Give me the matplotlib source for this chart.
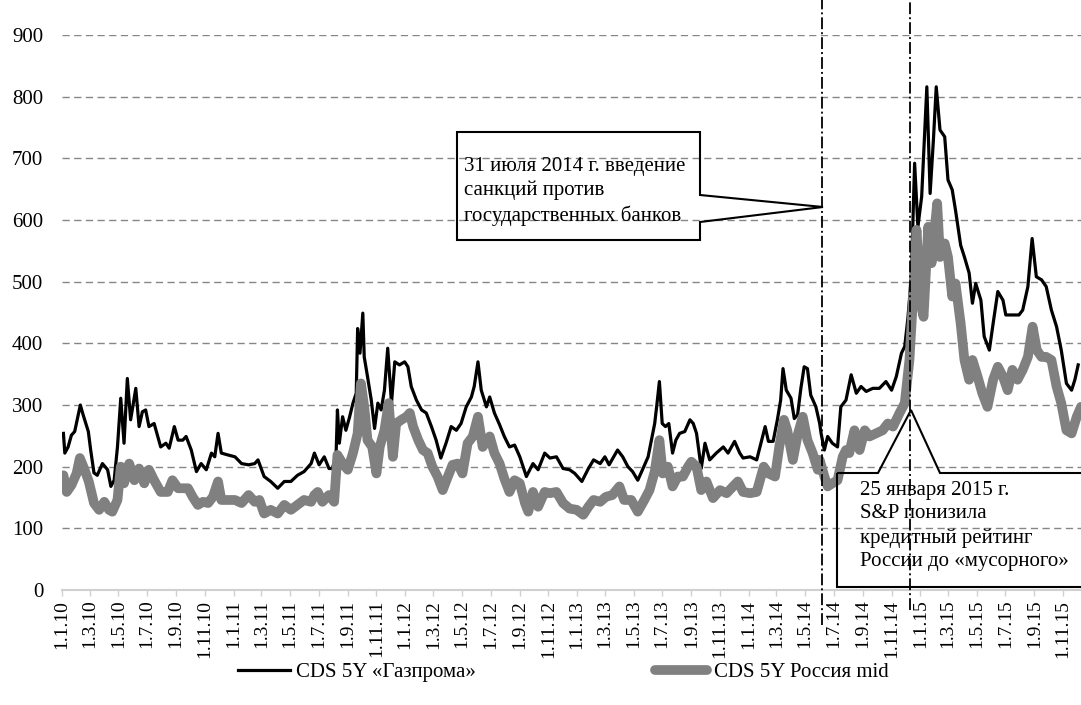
import matplotlib
matplotlib.use('Agg')
import matplotlib.pyplot as plt
from matplotlib.patches import Polygon
import numpy as np
import datetime as dt

plt.rcParams['font.family'] = ['Liberation Serif', 'DejaVu Serif']
plt.rcParams['lines.scale_dashes'] = False

# ---------------- data ----------------
gaz_dates = ['2010-01-04','2010-01-07','2010-01-14','2010-01-21','2010-01-28','2010-02-09','2010-02-15','2010-02-26',
 '2010-03-03','2010-03-10','2010-03-17','2010-03-28','2010-04-08','2010-04-15','2010-04-22','2010-04-29','2010-05-06',
 '2010-05-13','2010-05-20','2010-05-27','2010-06-07','2010-06-14','2010-06-21','2010-06-28','2010-07-05','2010-07-16',
 '2010-07-30','2010-08-10','2010-08-17','2010-08-28','2010-09-05','2010-09-15','2010-09-22','2010-10-03','2010-10-14',
 '2010-10-24','2010-11-04','2010-11-15','2010-11-22','2010-11-29','2010-12-06','2010-12-20','2011-01-04','2011-01-18',
 '2011-02-02','2011-02-15','2011-02-22','2011-03-07','2011-03-21','2011-04-05','2011-04-19','2011-05-03','2011-05-17',
 '2011-05-31','2011-06-15','2011-06-22','2011-07-02','2011-07-13','2011-07-23','2011-07-30','2011-08-07','2011-08-10',
 '2011-08-14','2011-08-21','2011-08-28','2011-09-05','2011-09-12','2011-09-19','2011-09-22','2011-09-27','2011-10-03',
 '2011-10-06','2011-10-13','2011-10-21','2011-10-28','2011-11-04','2011-11-11','2011-11-18','2011-11-25','2011-12-03',
 '2011-12-10','2011-12-20','2011-12-31','2012-01-07','2012-01-14','2012-01-25','2012-02-05','2012-02-15','2012-02-26',
 '2012-03-07','2012-03-17','2012-03-28','2012-04-08','2012-04-19','2012-04-29','2012-05-10','2012-05-21','2012-05-27',
 '2012-06-04','2012-06-11','2012-06-22','2012-06-29','2012-07-09','2012-07-20','2012-07-30','2012-08-10','2012-08-21',
 '2012-09-01','2012-09-15','2012-09-29','2012-10-10','2012-10-24','2012-11-04','2012-11-18','2012-12-02','2012-12-16',
 '2012-12-27','2013-01-11','2013-01-25','2013-02-05','2013-02-19','2013-03-01','2013-03-10','2013-03-28','2013-04-08',
 '2013-04-19','2013-04-29','2013-05-10','2013-05-20','2013-06-01','2013-06-08','2013-06-15','2013-06-20','2013-06-25',
 '2013-07-01','2013-07-08','2013-07-15','2013-07-23','2013-07-30','2013-08-07','2013-08-18','2013-08-29','2013-09-05',
 '2013-09-12','2013-09-22','2013-09-30','2013-10-10','2013-10-24','2013-11-08','2013-11-18','2013-12-02','2013-12-13',
 '2013-12-20','2014-01-04','2014-01-18','2014-01-25','2014-02-05','2014-02-12','2014-02-22','2014-03-03','2014-03-10',
 '2014-03-15','2014-03-22','2014-04-01','2014-04-08','2014-04-15','2014-04-22','2014-04-29','2014-05-06','2014-05-13',
 '2014-05-24','2014-06-01','2014-06-04','2014-06-11','2014-06-18','2014-06-28','2014-07-09','2014-07-16','2014-07-27',
 '2014-08-07','2014-08-18','2014-08-28','2014-09-08','2014-09-22','2014-10-06','2014-10-20','2014-11-01','2014-11-11',
 '2014-11-22','2014-11-29','2014-12-06','2014-12-13','2014-12-20','2014-12-27','2015-01-04','2015-01-15','2015-01-22',
 '2015-01-29','2015-02-04','2015-02-12','2015-02-22','2015-03-01','2015-03-10','2015-03-17','2015-03-28','2015-04-05',
 '2015-04-15','2015-04-22','2015-04-29','2015-05-10','2015-05-17','2015-05-28','2015-06-05','2015-06-15','2015-06-26',
 '2015-07-02','2015-07-16','2015-07-30','2015-08-07','2015-08-18','2015-08-27','2015-09-05','2015-09-16','2015-09-26',
 '2015-10-07','2015-10-18','2015-10-28','2015-11-08','2015-11-19','2015-11-26','2015-12-03']
gaz_values = [254,222,232,251,257,300,284,257,
 227,190,186,205,195,168,178,232,311,
 238,343,276,327,265,289,292,265,270,
 232,238,230,265,243,243,249,227,192,
 205,195,222,216,254,222,219,216,205,
 203,205,211,184,176,165,176,176,186,
 192,205,222,203,216,197,197,216,292,
 238,281,259,281,303,319,424,384,449,
 378,346,308,262,303,292,324,392,303,
 370,365,370,362,330,308,292,287,265,
 243,214,238,265,259,270,297,313,330,
 370,324,297,313,287,268,249,232,235,
 216,184,205,195,222,214,216,197,195,
 189,176,197,211,205,216,203,227,216,
 200,192,178,195,216,243,270,303,338,
 270,265,270,222,243,254,257,276,270,
 254,197,238,211,222,232,222,241,222,
 214,216,211,232,265,241,241,276,308,
 359,324,311,278,284,327,362,359,316,
 297,270,254,227,249,238,232,297,308,
 349,319,330,322,327,327,338,324,346,
 384,395,443,508,692,589,638,816,643,
 730,816,746,735,665,649,616,559,540,
 514,465,497,470,411,389,432,484,470,
 446,446,446,454,492,570,508,503,492,
 454,427,389,335,324,341,365]

rus_dates = ['2010-01-04','2010-01-11','2010-01-21','2010-02-01','2010-02-08','2010-02-18','2010-02-27','2010-03-10',
 '2010-03-21','2010-04-01','2010-04-11','2010-04-18','2010-04-29','2010-05-06','2010-05-13','2010-05-24','2010-06-04',
 '2010-06-14','2010-06-25','2010-07-05','2010-07-16','2010-07-30','2010-08-14','2010-08-24','2010-09-05','2010-09-15',
 '2010-09-26','2010-10-06','2010-10-17','2010-10-28','2010-11-08','2010-11-18','2010-11-29','2010-12-06','2010-12-20',
 '2011-01-04','2011-01-18','2011-02-02','2011-02-15','2011-02-25','2011-03-07','2011-03-21','2011-04-05','2011-04-19',
 '2011-05-03','2011-05-17','2011-05-31','2011-06-15','2011-06-22','2011-06-29','2011-07-09','2011-07-23','2011-08-03',
 '2011-08-10','2011-08-21','2011-09-01','2011-09-12','2011-09-22','2011-09-29','2011-10-06','2011-10-13','2011-10-23',
 '2011-11-01','2011-11-08','2011-11-18','2011-11-27','2011-12-06','2011-12-13','2011-12-24','2012-01-04','2012-01-11',
 '2012-01-18','2012-01-29','2012-02-08','2012-02-18','2012-02-28','2012-03-10','2012-03-21','2012-04-01','2012-04-11',
 '2012-04-22','2012-05-02','2012-05-13','2012-05-24','2012-06-04','2012-06-14','2012-06-29','2012-07-09','2012-07-20',
 '2012-07-30','2012-08-10','2012-08-21','2012-09-01','2012-09-12','2012-09-19','2012-09-29','2012-10-10','2012-10-24',
 '2012-11-04','2012-11-18','2012-12-02','2012-12-16','2012-12-31','2013-01-14','2013-01-25','2013-02-05','2013-02-19',
 '2013-03-03','2013-03-17','2013-04-01','2013-04-11','2013-04-26','2013-05-10','2013-05-24','2013-06-04','2013-06-15',
 '2013-06-25','2013-07-02','2013-07-13','2013-07-23','2013-08-03','2013-08-14','2013-08-25','2013-09-01','2013-09-12',
 '2013-09-22','2013-10-03','2013-10-17','2013-11-01','2013-11-15','2013-11-29','2013-12-09','2013-12-20','2014-01-04',
 '2014-01-18','2014-02-02','2014-02-12','2014-02-26','2014-03-07','2014-03-17','2014-03-24','2014-04-05','2014-04-15',
 '2014-04-26','2014-05-06','2014-05-17','2014-05-28','2014-06-01','2014-06-11','2014-06-18','2014-06-28','2014-07-09',
 '2014-07-20','2014-07-27','2014-08-03','2014-08-14','2014-08-25','2014-09-05','2014-09-15','2014-09-29','2014-10-13',
 '2014-10-24','2014-11-04','2014-11-18','2014-11-29','2014-12-09','2014-12-16','2014-12-24','2015-01-02','2015-01-08',
 '2015-01-18','2015-01-25','2015-02-02','2015-02-06','2015-02-12','2015-02-22','2015-03-01','2015-03-10','2015-03-17',
 '2015-03-28','2015-04-05','2015-04-15','2015-04-22','2015-05-03','2015-05-13','2015-05-24','2015-06-05','2015-06-15',
 '2015-06-26','2015-07-06','2015-07-16','2015-07-27','2015-08-07','2015-08-18','2015-08-28','2015-09-06','2015-09-16',
 '2015-09-26','2015-10-07','2015-10-18','2015-10-28','2015-11-08','2015-11-19','2015-11-30','2015-12-09']
rus_values = [186,159,170,189,214,195,176,141,
 130,143,130,127,146,200,173,205,178,
 197,173,195,178,159,159,178,165,165,
 165,151,138,143,141,151,176,146,146,
 146,141,154,143,146,124,130,124,138,
 130,138,146,143,154,159,143,154,143,
 219,205,195,222,254,335,297,243,232,
 189,232,259,303,216,270,276,281,287,
 265,243,227,222,200,184,162,184,203,
 205,189,238,249,281,232,249,222,205,
 181,159,178,173,141,127,159,135,159,
 157,159,141,132,130,122,135,146,143,
 151,154,168,146,146,127,146,162,192,
 243,189,200,168,184,184,200,208,200,
 162,176,149,162,157,168,176,159,157,
 159,200,189,184,232,276,259,211,251,
 281,243,222,195,211,184,168,173,178,
 216,227,222,259,227,259,249,254,259,
 270,265,287,303,373,465,584,465,443,
 589,530,595,627,540,562,540,476,497,
 432,373,341,373,346,319,297,341,362,
 346,324,357,341,357,378,427,389,378,
 378,373,330,303,259,254,281,297]

series_labels = ['CDS 5Y «Газпрома»', 'CDS 5Y Россия mid']
event_dates = ['2014-06-06', '2014-12-11']
event_texts = ['31 июля 2014 г. введение\nсанкций против\nгосударственных банков',
               '25 января 2015 г.\nS&P понизила\nкредитный рейтинг\nРоссии до «мусорного»']
y_ticks = [0, 100, 200, 300, 400, 500, 600, 700, 800, 900]
x_start, x_end = '2010-01-01', '2015-12-09'

# ---------------- figure ----------------
W, H = 1081, 705
fig = plt.figure(figsize=(W / 100, H / 100), dpi=100)
ax = fig.add_axes([62 / W, 1 - 590 / H, 1 - 62 / W, (590 - 35) / H])

gd = np.array(gaz_dates, dtype='datetime64[D]')
rd = np.array(rus_dates, dtype='datetime64[D]')
ax.plot(gd, gaz_values, color='black', lw=2.3, zorder=3, label=series_labels[0])
ax.plot(rd, rus_values, color='#808080', lw=7, solid_capstyle='round',
        solid_joinstyle='round', zorder=4, label=series_labels[1])

ax.set_xlim(np.datetime64(x_start), np.datetime64(x_end))
ax.set_ylim(0, 900)
ax.set_yticks(y_ticks)

tick_dates = [dt.date(2010 + m // 12, m % 12 + 1, 1) for m in range(0, 71, 2)]
ax.set_xticks([np.datetime64(d) for d in tick_dates])
ax.set_xticklabels([f"{d.day}.{d.month}.{d.year % 100:02d}" for d in tick_dates],
                   rotation=90, fontsize=14)
ax.tick_params(axis='x', direction='out', length=4, width=1, color='#d0d0d0', pad=3)
ax.tick_params(axis='y', length=0, pad=13.5, labelsize=15)

for s in ['left', 'right', 'top']:
    ax.spines[s].set_visible(False)
ax.spines['bottom'].set_color('#d0d0d0')
ax.spines['bottom'].set_linewidth(1.5)

ax.yaxis.grid(True, color='#868686', lw=1.0, linestyle=(0, (5.2, 3.2)))
ax.set_axisbelow(True)
ax.yaxis.get_gridlines()[0].set_visible(False)

# event lines
dashdot = (0, (8.5, 2.2, 1.4, 2.2))
ax.axvline(np.datetime64(event_dates[0]), ymin=-0.063, ymax=1.07, color='black', lw=1.3,
           linestyle=dashdot, clip_on=False, zorder=5)
ax.axvline(np.datetime64(event_dates[1]), ymin=-0.036, ymax=1.07, color='black', lw=1.3,
           linestyle=dashdot, clip_on=False, zorder=5)

def fp(x, y):
    return (x / W, 1 - y / H)

call1 = [(457, 132), (700, 132), (700, 195), (823, 207), (700, 222), (700, 240), (457, 240)]
call2 = [(837, 473), (878, 473), (911, 410), (940, 473), (1095, 473), (1095, 587), (837, 587)]
for c in (call1, call2):
    fig.patches.append(Polygon([fp(*p) for p in c], closed=True, fill=False,
                               edgecolor='black', lw=1.5, transform=fig.transFigure, zorder=6))

fig.text(*fp(464, 157), event_texts[0], fontsize=15, va='top', ha='left', linespacing=1.32)
fig.text(*fp(860, 481), event_texts[1], fontsize=15, va='top', ha='left', linespacing=1.32)

fig.legend(loc='center left', bbox_to_anchor=fp(238, 672), ncol=2, frameon=False,
           fontsize=15, handlelength=2.5, handletextpad=0.3, columnspacing=8.6,
           borderpad=0, borderaxespad=0)

fig.savefig('out.png', dpi=100)
